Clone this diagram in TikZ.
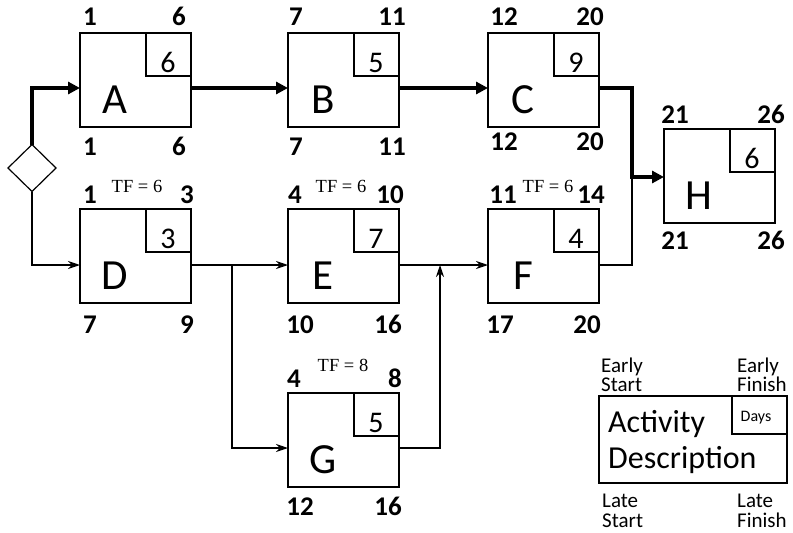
\documentclass[tikz,border=0pt]{standalone}
\usepackage{fontspec}
\setmainfont{Carlito}
\newfontfamily\tffont{Liberation Serif}
\usetikzlibrary{arrows.meta,shapes.geometric}

% activity box: name, left x, top y, letter, duration
\newcommand\actbox[5]{%
  \node[act] (#1) at (#2,#3) {};
  \node[dur] (#1d) at (#1.north east) {};
  \node[lett] (#1l) at ({#2+35},{#3+80}) {#4};
  \node[days] (#1n) at ({#2+88},{#3+39}) {#5};
}

\begin{document}
\begin{tikzpicture}[x=1pt,y=-1pt,
  act/.style={draw,line width=1.3pt,minimum width=111pt,minimum height=94pt,
    anchor=north west,inner sep=0pt,outer sep=0pt},
  dur/.style={draw,line width=1.3pt,minimum width=45pt,minimum height=43pt,
    anchor=north east,inner sep=0pt,outer sep=0pt},
  lett/.style={font=\fontsize{43}{43}\selectfont,anchor=base,inner sep=0pt},
  days/.style={font=\fontsize{30}{30}\selectfont,anchor=base,inner sep=0pt},
  num/.style={font=\fontsize{27}{27}\selectfont\bfseries,anchor=base,inner sep=0pt},
  tf/.style={font=\tffont\fontsize{18.5}{18.5}\selectfont,anchor=base,inner sep=0pt},
  leg/.style={font=\fontsize{21}{21}\selectfont,anchor=base west,inner sep=0pt},
  crit/.style={line width=4pt,-{Triangle[length=12pt,width=12pt]}},
  mid/.style={line width=2.5pt},
  flow/.style={line width=1.2pt,-{Stealth[length=12pt,width=8pt,inset=4pt]}}
]
\useasboundingbox (0,0) rectangle (793,533);

% activities
\actbox{A}{80}{33}{A}{6}
\actbox{B}{288}{33}{B}{5}
\actbox{C}{488}{33}{C}{9}
\actbox{H}{664}{129}{H}{6}
\actbox{D}{80}{209}{D}{3}
\actbox{E}{288}{209}{E}{7}
\actbox{F}{488}{209}{F}{4}
\actbox{G}{288}{393}{G}{5}

% early / late times
\node[num] (Aes) at (90,25) {1};   \node[num] (Aef) at (179,25) {6};
\node[num] (Als) at (90,155) {1};  \node[num] (Alf) at (179,155) {6};
\node[num] (Bes) at (296,25) {7};  \node[num] (Bef) at (392,25) {11};
\node[num] (Bls) at (296,155) {7}; \node[num] (Blf) at (392,155) {11};
\node[num] (Ces) at (504,25) {12}; \node[num] (Cef) at (590,25) {20};
\node[num] (Cls) at (504,150) {12};\node[num] (Clf) at (590,150) {20};
\node[num] (Hes) at (675,123) {21};\node[num] (Hef) at (771,123) {26};
\node[num] (Hls) at (675,249) {21};\node[num] (Hlf) at (771,249) {26};
\node[num] (Des) at (90,203) {1};  \node[num] (Def) at (187,203) {3};
\node[num] (Dls) at (90,333) {7};  \node[num] (Dlf) at (187,333) {9};
\node[num] (Ees) at (295,203) {4}; \node[num] (Eef) at (390,203) {10};
\node[num] (Els) at (300,333) {10};\node[num] (Elf) at (388,333) {16};
\node[num] (Fes) at (503,203) {11};\node[num] (Fef) at (591,203) {14};
\node[num] (Fls) at (500,333) {17};\node[num] (Flf) at (587,333) {20};
\node[num] (Ges) at (294,387) {4}; \node[num] (Gef) at (395,387) {8};
\node[num] (Gls) at (300,515) {12};\node[num] (Glf) at (388,515) {16};

% total float
\node[tf] (Dtf) at (137,192) {TF = 6};
\node[tf] (Etf) at (341,192) {TF = 6};
\node[tf] (Ftf) at (548,192) {TF = 6};
\node[tf] (Gtf) at (343,371) {TF = 8};

% start event
\node[draw,diamond,line width=1.2pt,minimum width=48pt,minimum height=47pt,
  inner sep=0pt,outer sep=0pt] (start) at (32,168) {};

% junctions
\coordinate (j1) at (632,177);
\coordinate (j2) at (232,265);
\coordinate (j3) at (440,265);

% critical path
\draw[crit] (start.north) |- (A.west |- 0,88);
\draw[crit] (A.east |- 0,88) -- (B.west |- 0,88);
\draw[crit] (B.east |- 0,88) -- (C.west |- 0,88);
\draw[crit] (C.east |- 0,88) -| (j1) -- (H.west |- j1);
\draw[mid] (F.east |- 0,265) -| (j1);

% other paths
\draw[flow] (start.south) |- (D.west |- 0,265);
\draw[flow] (D.east |- 0,265) -- (E.west |- 0,265);
\draw[flow] (j2) |- (G.west |- 0,448);
\draw[flow] (E.east |- 0,265) -- (F.west |- 0,265);
\draw[flow] (G.east |- 0,448) -| (j3);

% legend
\node[draw,line width=1.3pt,minimum width=188pt,minimum height=87pt,
  anchor=north west,inner sep=0pt,outer sep=0pt] (key) at (599,396) {};
\node[draw,line width=1.3pt,minimum width=55pt,minimum height=38pt,
  anchor=north east,inner sep=0pt,outer sep=0pt] (keyd) at (key.north east) {};
\node[font=\fontsize{16}{16}\selectfont,inner sep=0pt] (keydays) at (756,418) {Days};
\node[font=\fontsize{32}{32}\selectfont,anchor=base west,inner sep=0pt] (keya) at (608,432) {Activity};
\node[font=\fontsize{32}{32}\selectfont,anchor=base west,inner sep=0pt] (keyb) at (608,468) {Description};
\node[leg] (k1) at (601,372) {Early};
\node[leg] (k2) at (601,391) {Start};
\node[leg] (k3) at (737,372) {Early};
\node[leg] (k4) at (737,391) {Finish};
\node[leg] (k5) at (602,507) {Late};
\node[leg] (k6) at (602,527) {Start};
\node[leg] (k7) at (737,507) {Late};
\node[leg] (k8) at (737,527) {Finish};
\end{tikzpicture}
\end{document}
